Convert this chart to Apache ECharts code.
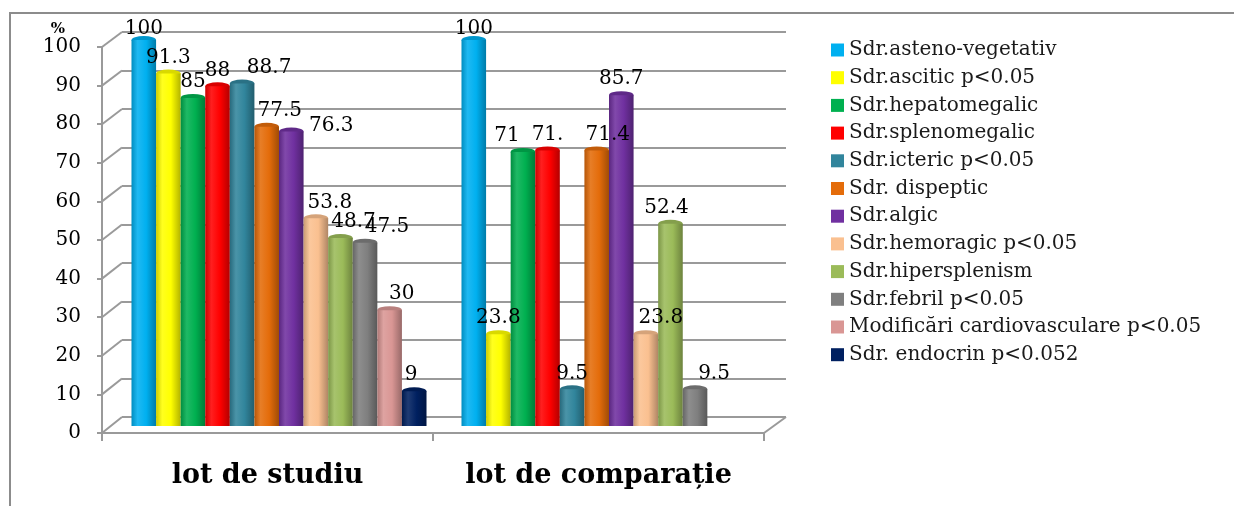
<!DOCTYPE html>
<html>
<head>
<meta charset="utf-8">
<script src="https://cdn.jsdelivr.net/npm/echarts@6/dist/echarts.min.js"></script>
<style>
html,body{margin:0;padding:0;background:#fff;}
#c{width:1234px;height:506px;}
</style>
</head>
<body>
<div id="c"></div>
<script>
// ---- data ----
const categories = ['lot de studiu', 'lot de comparație'];
const seriesNames = [
  'Sdr.asteno-vegetativ', 'Sdr.ascitic p<0.05', 'Sdr.hepatomegalic', 'Sdr.splenomegalic',
  'Sdr.icteric p<0.05', 'Sdr. dispeptic', 'Sdr.algic', 'Sdr.hemoragic p<0.05',
  'Sdr.hipersplenism', 'Sdr.febril p<0.05', 'Modificări cardiovasculare p<0.05', 'Sdr. endocrin p<0.052'
];
const astenoVegetativ = [100, 100];
const ascitic = [91.3, 23.8];
const hepatomegalic = [85, 71];
const splenomegalic = [88, 71.4];
const icteric = [88.7, 9.5];
const dispeptic = [77.5, 71.4];
const algic = [76.3, 85.7];
const hemoragic = [53.8, 23.8];
const hipersplenism = [48.7, 52.4];
const febril = [47.5, 9.5];
const cardiovascular = [30, null];
const endocrin = [9, null];
// label text as printed in the picture (where it differs from the value)
const splenomegalicLabels = ['88', '71.'];
const yTicks = [0, 10, 20, 30, 40, 50, 60, 70, 80, 90, 100];

const seriesValues = [astenoVegetativ, ascitic, hepatomegalic, splenomegalic, icteric, dispeptic,
  algic, hemoragic, hipersplenism, febril, cardiovascular, endocrin];
const labelTexts = {3: splenomegalicLabels};

// ---- style ----
const colors = ['#00B0F0', '#FFFF00', '#00B050', '#FF0000', '#31859C', '#E46C0A',
  '#7030A0', '#FAC090', '#9BBB59', '#7F7F7F', '#D99694', '#002060'];
// label nudges [dx, dy] per series and per category (the source shifted some labels aside)
const labelNudge = [
  [[0, 5], [0, 5]], [[0, 0], [0, 0]], [[0, 0], [-16, 0]], [[0, 0], [0, 0]],
  [[27, 0], [0, 0]], [[13, 0], [11, 0]], [[40, 10], [0, 0]], [[14, 0], [15, 0]],
  [[13, 0], [-4, 0]], [[22, 0], [19, 0]], [[12, 0], [0, 0]], [[-3, 0], [0, 0]]
];
const SERIF = "'DejaVu Serif', 'Liberation Serif', serif";
const BAR_GRID = {left: 114, right: 460, top: 40, bottom: 80};
const BACK_GRID = {left: 122, right: 448, top: 32, bottom: 89};
const FRONT_GRID = {left: 102, right: 470, top: 47, bottom: 73};
const LINE = '#9a9a9a';
const GAP = '10.6%';

function shade(hex, f) {
  const n = parseInt(hex.slice(1), 16);
  let r = (n >> 16) & 255, g = (n >> 8) & 255, b = n & 255;
  const t = f > 0 ? 255 : 0, p = Math.abs(f);
  r = Math.round(r + (t - r) * p); g = Math.round(g + (t - g) * p); b = Math.round(b + (t - b) * p);
  return 'rgb(' + r + ',' + g + ',' + b + ')';
}
function cyl(hex) {
  return {type: 'linear', x: 0, y: 0, x2: 1, y2: 0, colorStops: [
    {offset: 0, color: shade(hex, -0.2)},
    {offset: 0.25, color: shade(hex, 0.12)},
    {offset: 0.6, color: hex},
    {offset: 1, color: shade(hex, -0.3)}
  ]};
}

const series = [];
seriesNames.forEach((name, i) => {
  series.push({
    type: 'bar', name, xAxisIndex: 0, yAxisIndex: 0, z: 2,
    data: seriesValues[i].map((v, j) => ({value: v, label: {offset: labelNudge[i][j]}})),
    barGap: '0%', barCategoryGap: GAP,
    itemStyle: {color: cyl(colors[i])},
    label: {
      show: true, position: 'top', distance: 6,
      fontFamily: SERIF, fontSize: 20, color: '#000',
      formatter: p => (labelTexts[i] ? labelTexts[i][p.dataIndex] : String(p.value))
    }
  });
});
// top caps of the cylinders
seriesNames.forEach((name, i) => {
  series.push({
    type: 'pictorialBar', name, xAxisIndex: 0, yAxisIndex: 0, z: 2,
    data: seriesValues[i],
    barGap: '0%', barCategoryGap: GAP,
    symbol: 'circle', symbolSize: ['100%', 8], symbolPosition: 'end', symbolOffset: [0, '-50%'],
    itemStyle: {color: shade(colors[i], -0.15)},
    silent: true
  });
});

const chart = echarts.init(document.getElementById('c'));
const legendText = {fontFamily: SERIF, fontSize: 20, color: '#1a1a1a'};
const option = {
  backgroundColor: '#fff',
  animation: false,
  grid: [
    Object.assign({}, BAR_GRID),
    Object.assign({}, BACK_GRID),
    Object.assign({}, FRONT_GRID)
  ],
  legend: {
    orient: 'vertical', left: 826, top: 35,
    itemWidth: 13, itemHeight: 13, itemGap: 7.7, icon: 'rect',
    textStyle: legendText,
    data: seriesNames.map((n, i) => ({name: n, icon: 'rect', itemStyle: {color: colors[i]}, textStyle: legendText}))
  },
  xAxis: [
    {type: 'category', gridIndex: 0, data: categories, show: false},
    {type: 'category', gridIndex: 1, data: categories, show: false},
    {type: 'category', gridIndex: 2, data: categories,
      axisLine: {lineStyle: {color: LINE, width: 2}},
      axisTick: {show: true, length: 8, lineStyle: {color: LINE, width: 2}},
      axisLabel: {interval: 0, fontFamily: SERIF, fontWeight: 'bold', fontSize: 27, color: '#000', margin: 29},
      splitLine: {show: false}}
  ],
  yAxis: [
    {type: 'value', gridIndex: 0, min: 0, max: 100, interval: 10, show: false},
    {type: 'value', gridIndex: 1, min: 0, max: 100, interval: 10,
      axisLine: {show: false}, axisTick: {show: false}, axisLabel: {show: false},
      splitLine: {show: true, lineStyle: {color: LINE, width: 2}}},
    {type: 'value', gridIndex: 2, min: 0, max: 100, interval: 10,
      name: '%', nameLocation: 'end', nameGap: 17,
      nameTextStyle: {fontFamily: SERIF, fontWeight: 'bold', fontSize: 15, color: '#000',
        align: 'right', verticalAlign: 'middle', padding: [0, 37, 0, 0]},
      axisLine: {show: true, lineStyle: {color: LINE, width: 2}},
      axisTick: {show: true, length: 5, lineStyle: {color: LINE, width: 2}},
      axisLabel: {fontFamily: SERIF, fontSize: 20, color: '#000', margin: 21,
        formatter: v => (yTicks.indexOf(v) >= 0 ? String(v) : '')},
      splitLine: {show: false}}
  ],
  series
};
chart.setOption(option);

// 3D wall/floor edges, derived from the axes' own scales
const decor = [];
yTicks.forEach(v => {
  const yF = chart.convertToPixel({yAxisIndex: 2}, v);
  const yB = chart.convertToPixel({yAxisIndex: 1}, v);
  decor.push({type: 'line', shape: {x1: FRONT_GRID.left, y1: yF, x2: BACK_GRID.left, y2: yB},
    style: {stroke: LINE, lineWidth: 2}, z: 1});
});
{
  const yF0 = chart.convertToPixel({yAxisIndex: 2}, 0);
  const yB0 = chart.convertToPixel({yAxisIndex: 1}, 0);
  decor.push({type: 'line', shape: {x1: 1234 - FRONT_GRID.right, y1: yF0, x2: 1234 - BACK_GRID.right, y2: yB0},
    style: {stroke: LINE, lineWidth: 2}, z: 1});
}
decor.push({type: 'rect', shape: {x: 10, y: 13, width: 1400, height: 700},
  style: {fill: 'none', stroke: '#8c8c8c', lineWidth: 2}, z: 0, silent: true});
chart.setOption({graphic: decor});
</script>
</body>
</html>
